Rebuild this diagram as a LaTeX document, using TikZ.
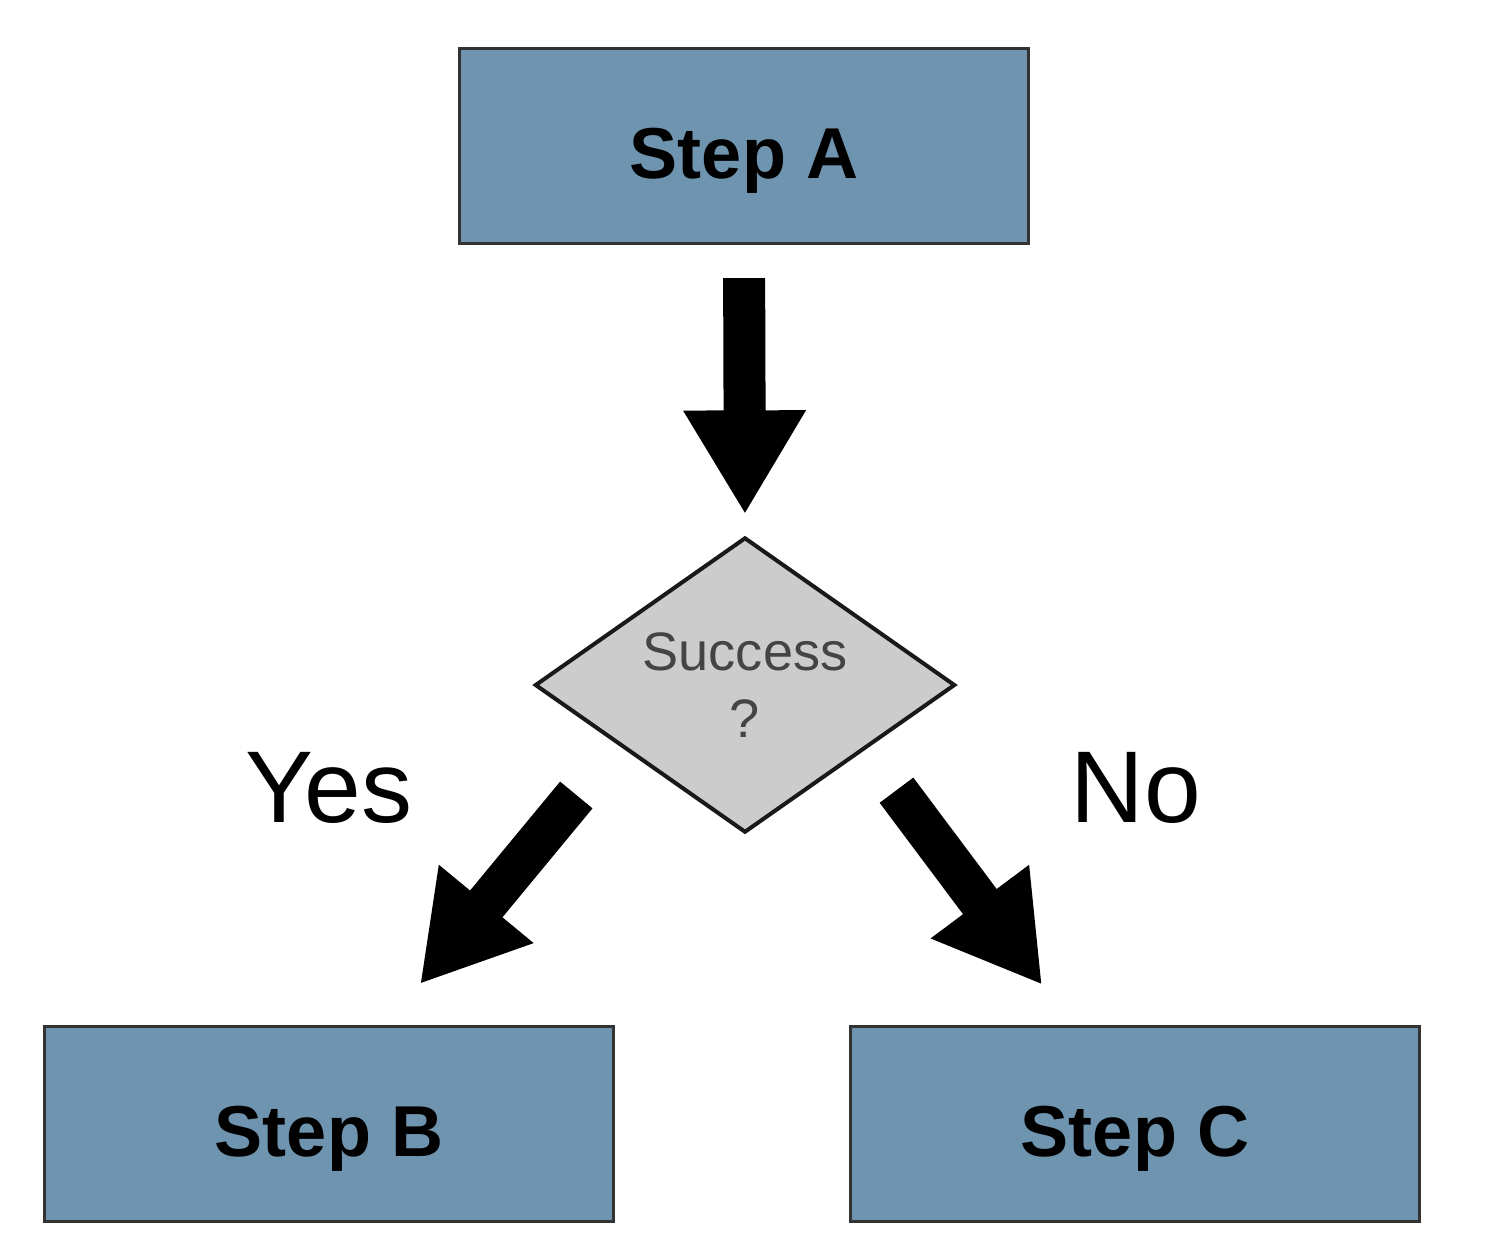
\documentclass[tikz,border=0pt]{standalone}
\usepackage{fontspec}
\setmainfont{Liberation Sans}
\usetikzlibrary{shapes.geometric,arrows.meta,calc}
\definecolor{stepblue}{HTML}{6F94AF}
\definecolor{decgray}{HTML}{CCCCCC}
\definecolor{edgegray}{HTML}{333333}
\definecolor{textgray}{HTML}{444444}
\begin{document}
\begin{tikzpicture}[x=0.01cm, y=-0.01cm,
  stepbox/.style={draw=edgegray, fill=stepblue, line width=0.3mm, minimum width=5.68cm, minimum height=1.95cm, inner sep=0pt, text height=0.64cm, text depth=0pt, font=\fontsize{20.5}{24}\selectfont\bfseries},
  decision/.style={diamond, aspect=1.42, draw=black!90, fill=decgray, line width=0.4mm, minimum width=4.2cm, minimum height=2.95cm, inner sep=0pt, align=center, text=textgray, font=\fontsize{15.4}{19}\selectfont},
  answer/.style={anchor=base, font=\fontsize{29}{32}\selectfont},
  bigarrow/.style={line width=0.42cm, -{Triangle[length=1.04cm, width=1.15cm]}}]
\useasboundingbox (0,0) rectangle (1498,1244);
\node[stepbox] (stepA) at (744,146) {Step A};
\node[decision] (dec) at (745,685) {Success\\?};
\node[stepbox] (stepB) at (329,1124) {Step B};
\node[stepbox] (stepC) at (1135,1124) {Step C};
\node[answer] (yes) at (329,822) {Yes};
\node[answer] (no) at (1136,822) {No};
\draw[bigarrow, shorten <=0.33cm, shorten >=0.21cm] (stepA.south) -- (dec.north);
\draw[bigarrow, shorten <=0.65cm, shorten >=0.53cm] ($(dec.west)!.4!(dec.south)$) -- ($(stepB.north west)!.6!(stepB.north east)$);
\draw[bigarrow, shorten <=0.51cm, shorten >=0.5cm] ($(dec.east)!.43!(dec.south)$) -- ($(stepC.north west)!.39!(stepC.north east)$);
\end{tikzpicture}
\end{document}
